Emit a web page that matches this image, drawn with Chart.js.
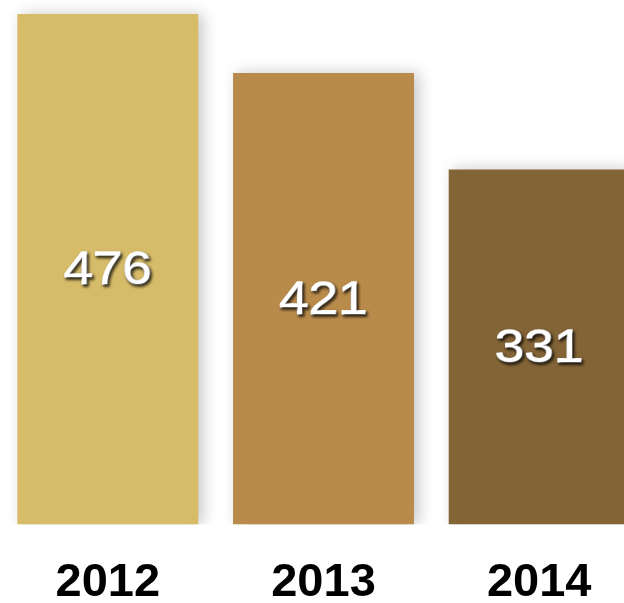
<!DOCTYPE html>
<html>
<head>
<meta charset="utf-8">
<script src="https://cdn.jsdelivr.net/npm/chart.js@4"></script>
<style>
  html, body { margin: 0; padding: 0; background: #fff; overflow: hidden; }
  #wrap { width: 647px; height: 603px; }
</style>
</head>
<body>
<div id="wrap"><canvas id="c" width="647" height="603"></canvas></div>
<script>
const categories = ['2012', '2013', '2014'];
const values = [476, 421, 331];
const barColors = ['#D6BB69', '#B98B4B', '#836437'];
const yMax = 489;

const shadowPlugin = {
  id: 'barShadow',
  beforeDatasetDraw(chart) {
    const ctx = chart.ctx;
    ctx.save();
    ctx.shadowColor = 'rgba(0,0,0,0.22)';
    ctx.shadowBlur = 14;
    ctx.shadowOffsetX = 5;
    ctx.shadowOffsetY = 0;
  },
  afterDatasetDraw(chart) {
    chart.ctx.restore();
  }
};

const valueLabels = {
  id: 'valueLabels',
  afterDatasetsDraw(chart) {
    const ctx = chart.ctx;
    const meta = chart.getDatasetMeta(0);
    const fs = 46;
    meta.data.forEach((bar, i) => {
      const p = bar.getProps(['x', 'y', 'base'], true);
      const cy = (p.y + p.base) / 2 - 1.5;
      ctx.save();
      ctx.translate(p.x, cy + fs * 0.358);
      ctx.scale(1.15, 1);
      ctx.font = 'normal ' + fs + 'px "Liberation Sans", Arial, sans-serif';
      ctx.fillStyle = '#ffffff';
      ctx.strokeStyle = '#ffffff';
      ctx.lineWidth = 1.3;
      ctx.lineJoin = 'round';
      ctx.textAlign = 'center';
      ctx.textBaseline = 'alphabetic';
      ctx.shadowColor = 'rgba(0,0,0,0.75)';
      ctx.shadowBlur = 3;
      ctx.shadowOffsetX = 1.5;
      ctx.shadowOffsetY = 2;
      ctx.strokeText(String(values[i]), 0, 0);
      ctx.fillText(String(values[i]), 0, 0);
      ctx.restore();
    });
  }
};

new Chart(document.getElementById('c'), {
  type: 'bar',
  data: {
    labels: categories,
    datasets: [{
      data: values,
      backgroundColor: barColors,
      borderWidth: 0,
      categoryPercentage: 1.0,
      barPercentage: 0.839
    }]
  },
  options: {
    responsive: false,
    animation: false,
    devicePixelRatio: 1,
    layout: { padding: 0 },
    plugins: { legend: { display: false }, tooltip: { enabled: false } },
    scales: {
      x: {
        grid: { display: false, drawTicks: false },
        border: { display: false },
        ticks: {
          color: '#000',
          font: { family: '"Liberation Sans", Arial, sans-serif', size: 47, weight: 'bold' },
          padding: 30,
          maxRotation: 0
        },
        afterFit(scale) { scale.height = 78.5; }
      },
      y: {
        display: false,
        min: 0,
        max: yMax
      }
    }
  },
  plugins: [shadowPlugin, valueLabels]
});
</script>
</body>
</html>
